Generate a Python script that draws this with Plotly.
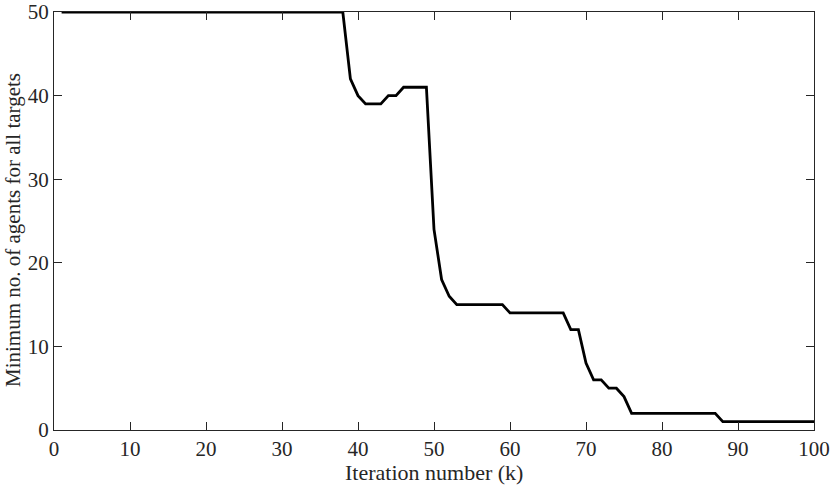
import plotly.graph_objects as go

iterations = list(range(1, 101))
min_agents = (
    [50] * 38 +                      # k = 1..38
    [42, 40, 39, 39, 39, 40, 40, 41, 41, 41, 41] +   # k = 39..49
    [24, 18, 16] +                   # k = 50..52
    [15] * 7 +                       # k = 53..59
    [14] * 8 +                       # k = 60..67
    [12, 12, 8, 6, 6, 5, 5, 4] +     # k = 68..75
    [2] * 12 +                       # k = 76..87
    [1] * 13                         # k = 88..100
)

x_ticks = [0, 10, 20, 30, 40, 50, 60, 70, 80, 90, 100]
y_ticks = [0, 10, 20, 30, 40, 50]
x_title = "Iteration number (k)"
y_title = "Minimum no. of agents for all targets"

FONT = "Liberation Serif"
TICK_FS = 21
COL = "#262626"

fig = go.Figure()
fig.add_trace(go.Scatter(
    x=iterations, y=min_agents, mode="lines",
    line=dict(color="black", width=2.8),
    showlegend=False,
))

axis_common = dict(
    showgrid=False, zeroline=False, automargin=False,
    showline=True, linecolor=COL, linewidth=1,
    mirror="ticks", ticks="inside", ticklen=8, tickwidth=1, tickcolor=COL,
    tickfont=dict(family=FONT, size=TICK_FS, color=COL),
    ticklabeloverflow="allow",
)

fig.update_layout(
    width=830, height=485,
    margin=dict(l=54, r=16, t=12, b=55),
    plot_bgcolor="white", paper_bgcolor="white",
    font=dict(family=FONT, size=TICK_FS, color=COL),
    xaxis=dict(range=[0, 100], tickvals=x_ticks, **axis_common),
    yaxis=dict(range=[0, 50], tickvals=y_ticks, **axis_common),
    annotations=[
        dict(text=x_title, xref="paper", yref="paper", x=0.5, y=0,
             xanchor="center", yanchor="middle", yshift=-42, showarrow=False,
             font=dict(family=FONT, size=22, color=COL)),
        dict(text=y_title, xref="paper", yref="paper", x=0, y=0.5,
             xanchor="center", yanchor="middle", xshift=-41, yshift=-9,
             textangle=-90, showarrow=False,
             font=dict(family=FONT, size=21, color=COL)),
    ],
)

# remove the default 8px page margin so the figure fills the window exactly
fig.write_html("out.html", config={"displayModeBar": False},
               post_script="document.body.style.margin='0';")
